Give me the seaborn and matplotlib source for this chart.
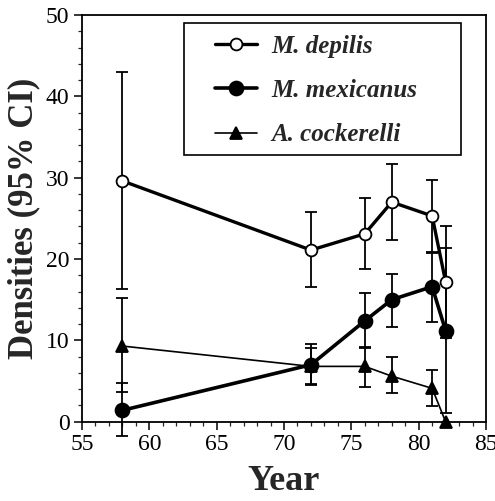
import matplotlib
matplotlib.use("Agg")
import matplotlib.pyplot as plt
import seaborn as sns
import pandas as pd
import numpy as np
from matplotlib.ticker import MultipleLocator
from matplotlib.patches import Rectangle

# Survey years (19xx)
years = [58, 72, 76, 78, 81, 82]

# Density estimates with 95% confidence limits
depilis = [29.6, 21.1, 23.1, 27.0, 25.3, 17.2]
depilis_lo = [16.3, 16.6, 18.8, 22.3, 20.8, 10.25]
depilis_hi = [43.0, 25.8, 27.5, 31.7, 29.7, 24.1]

mexicanus = [1.4, 7.0, 12.4, 15.0, 16.6, 11.2]
mexicanus_lo = [-1.7, 4.45, 9.0, 11.6, 12.2, 1.1]
mexicanus_hi = [4.7, 9.55, 15.8, 18.2, 20.9, 21.3]

cockerelli = [9.3, 6.8, 6.8, 5.6, 4.1, 0.0]
cockerelli_lo = [3.7, 4.6, 4.3, 3.5, 1.9, 0.0]
cockerelli_hi = [15.2, 9.1, 9.2, 8.0, 6.4, 0.0]

species = ["M. depilis", "M. mexicanus", "A. cockerelli"]

sns.set_theme(style="ticks")
plt.rcParams["font.family"] = ["Liberation Serif", "DejaVu Serif"]

df = pd.DataFrame({
    "Year": years * 3,
    "Density": depilis + mexicanus + cockerelli,
    "lo": depilis_lo + mexicanus_lo + cockerelli_lo,
    "hi": depilis_hi + mexicanus_hi + cockerelli_hi,
    "Species": [species[0]] * 6 + [species[1]] * 6 + [species[2]] * 6,
})

fig = plt.figure(figsize=(4.95, 5.01), dpi=100)
ax = fig.add_axes([0.1657, 0.1583, 0.8161, 0.8117])

styles = {
    "M. depilis": dict(marker="o", mfc="white", lw=2.4, ms=8.5),
    "M. mexicanus": dict(marker="o", mfc="black", lw=2.6, ms=10),
    "A. cockerelli": dict(marker="^", mfc="black", lw=1.2, ms=8.5),
}

handles = []
for sp in species:
    sub = df[df["Species"] == sp]
    st = styles[sp]
    yerr = np.vstack([sub["Density"] - sub["lo"], sub["hi"] - sub["Density"]])
    keep = (yerr.sum(axis=0) > 0)
    eb = ax.errorbar(sub["Year"][keep], sub["Density"][keep], yerr=yerr[:, keep],
                     fmt="none", ecolor="black", elinewidth=1.3, capsize=4.5,
                     capthick=1.3, zorder=2)
    for art in eb.get_children():
        art.set_clip_on(False)
    sns.lineplot(data=sub, x="Year", y="Density", ax=ax, color="black",
                 lw=st["lw"], marker=st["marker"], markersize=st["ms"],
                 markerfacecolor=st["mfc"], markeredgecolor="black",
                 markeredgewidth=1.3, clip_on=False, zorder=3, legend=False)
    handles.append(ax.lines[-1])

ax.set_xlim(55, 85)
ax.set_ylim(0, 50)
ax.xaxis.set_major_locator(MultipleLocator(5))
ax.xaxis.set_minor_locator(MultipleLocator(1))
ax.yaxis.set_major_locator(MultipleLocator(10))
ax.yaxis.set_minor_locator(MultipleLocator(2))
ax.tick_params(which="major", direction="out", length=6, width=1.1,
               labelsize=17, colors="black", pad=3)
ax.tick_params(which="minor", direction="out", length=3, width=0.9)
for s in ax.spines.values():
    s.set_linewidth(1.3)
    s.set_color("black")

ax.set_xlabel("Year", fontsize=26, fontweight="bold", labelpad=7)
ax.set_ylabel("Densities (95% CI)", fontsize=25, fontweight="bold", labelpad=4)

# Legend entries without their own frame; the box is drawn separately
leg = ax.legend(handles, species, loc="upper left",
                bbox_to_anchor=(0.329, 0.951), frameon=False,
                handlelength=1.7, labelspacing=0.85, borderpad=0.0,
                borderaxespad=0.0, handletextpad=0.55,
                prop={"family": ["Liberation Serif"], "style": "italic",
                      "weight": "bold", "size": 18})
ax.add_patch(Rectangle((0.2525, 0.656), 0.938 - 0.2525, 0.980 - 0.656,
                       transform=ax.transAxes, fill=True, facecolor="white",
                       edgecolor="black", lw=1.2, zorder=4))
leg.set_zorder(5)

fig.savefig("out.png", dpi=100)
